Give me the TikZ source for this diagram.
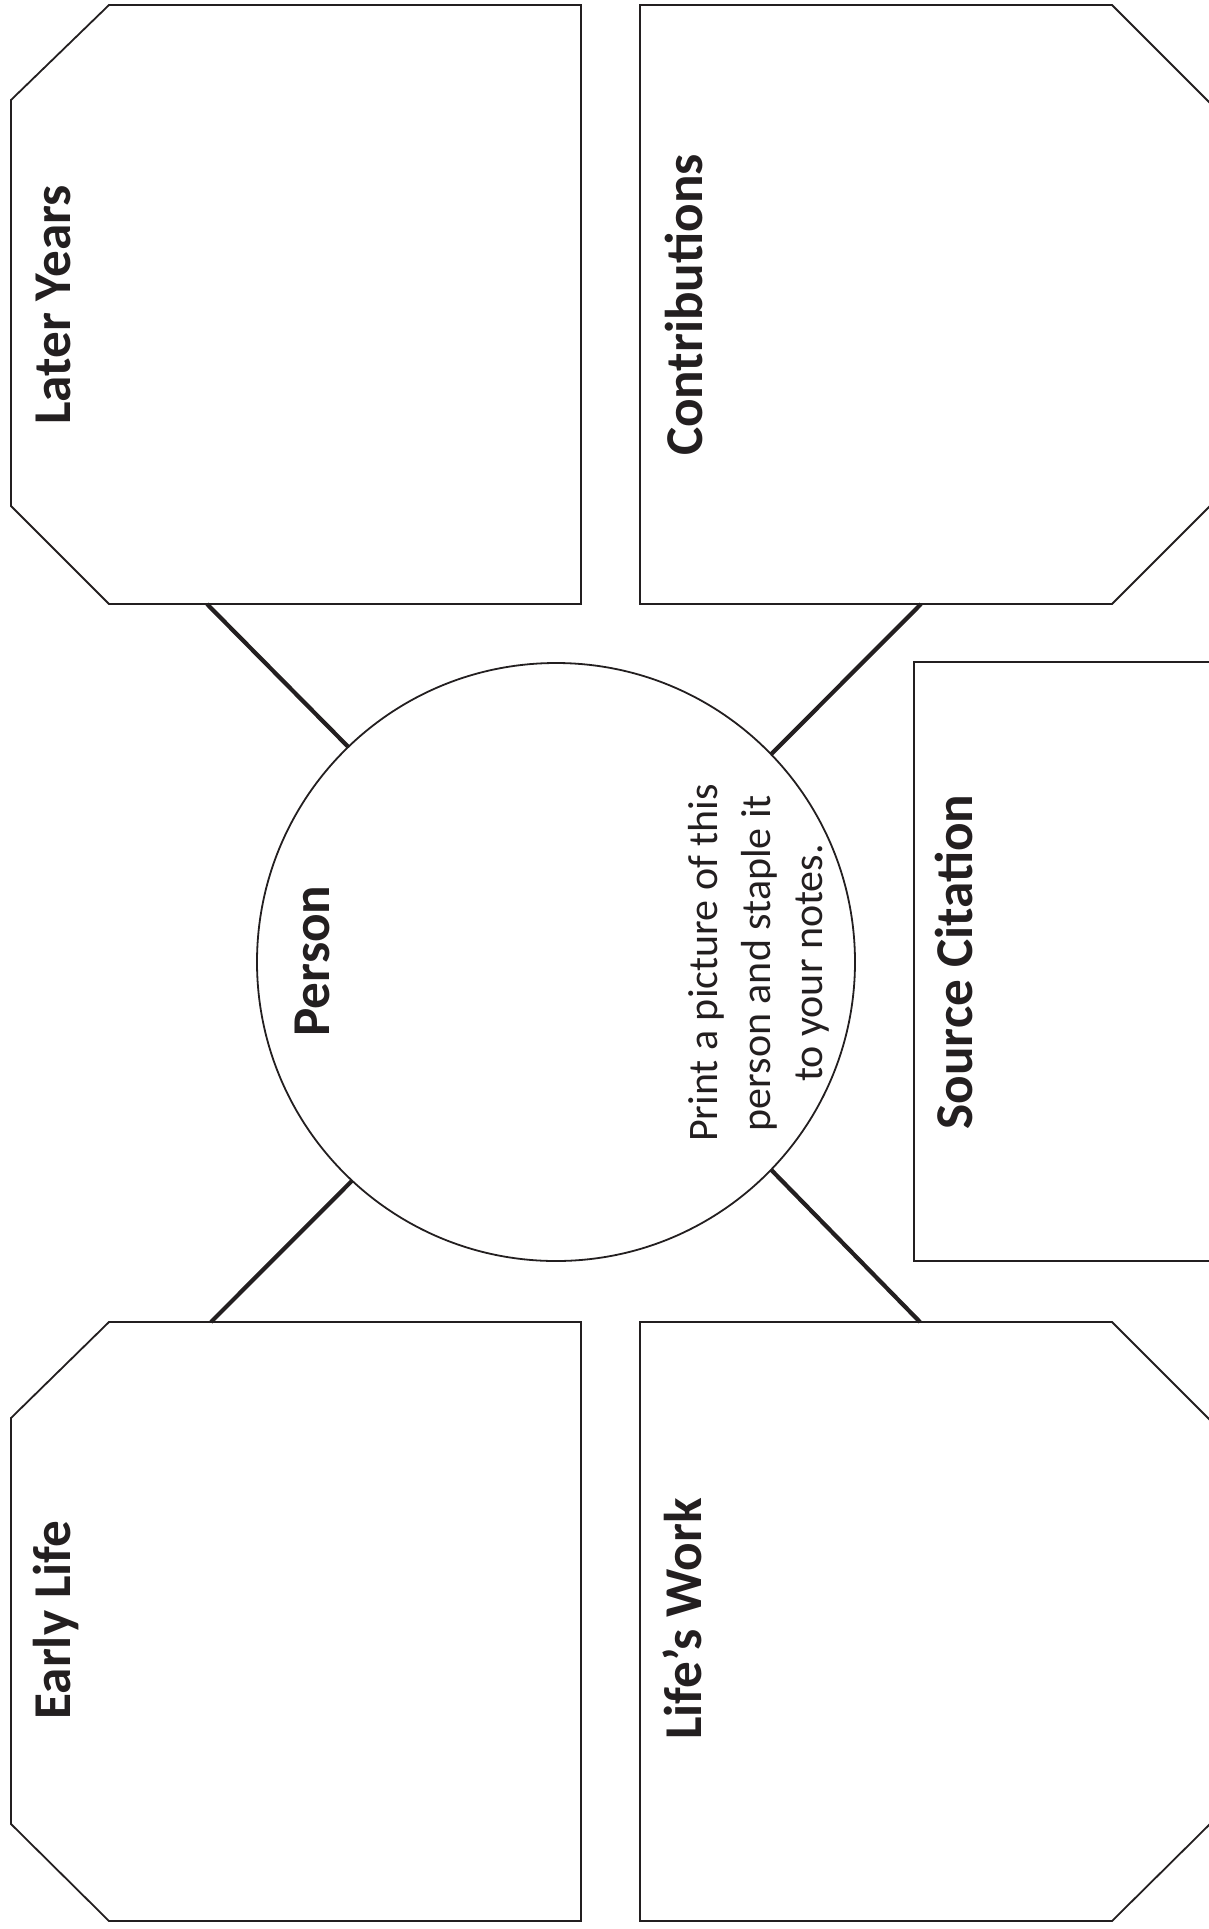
\documentclass[tikz,border=0pt]{standalone}
\usepackage{fontspec}
\setmainfont{Carlito}
\usetikzlibrary{positioning}
\definecolor{tinta}{HTML}{231F20}
\tikzset{
  marco/.style={draw=tinta, line width=0.9pt, line join=miter},
  titulo/.style={rotate=90, anchor=base, text=tinta, inner sep=0pt, font=\fontsize{26.6}{30}\selectfont\bfseries},
  nota/.style={rotate=90, align=center, text=tinta, inner sep=0pt, font=\fontsize{21}{26.3}\selectfont},
  rama/.style={draw=tinta, line width=2.1pt},
}
\begin{document}
\begin{tikzpicture}[x=0.5pt, y=-0.5pt]
  \useasboundingbox (0,0) rectangle (1209,1929);
  % cajas
  \draw[marco] (11,100) -- (109,5) -- (581,5) -- (581,604) -- (109,604) -- (11,506) -- cycle;
  \draw[marco] (640,5) -- (1112,5) -- (1212,105) -- (1212,504) -- (1112,604) -- (640,604) -- cycle;
  \draw[marco] (11,1418) -- (109,1322) -- (581,1322) -- (581,1921) -- (109,1921) -- (11,1824) -- cycle;
  \draw[marco] (640,1322) -- (1112,1322) -- (1212,1422) -- (1212,1822) -- (1112,1921) -- (640,1921) -- cycle;
  \draw[marco] (914,662) rectangle (1215,1261);
  \coordinate (ly) at (207,604);
  \coordinate (co) at (921,604);
  \coordinate (el) at (211,1322);
  \coordinate (lw) at (920,1322);
  % persona
  \node[marco, circle, minimum size=299pt, inner sep=0pt, outer sep=0pt] (pe) at (556,962) {};
  \foreach \a/\n in {134/ly, 44/co, 227/el, 316/lw} \draw[rama] (pe.\a) -- (\n);
  % textos
  \node[titulo] (tly) at (70,305) {Later Years};
  \node[titulo] (tco) at (702,305) {Contributions};
  \node[titulo] (tel) at (70,1620) {Early Life};
  \node[titulo] (tlw) at (701,1619) {Life’s Work};
  \node[titulo] (tpe) at (329,961) {Person};
  \node[titulo] (tsc) at (972,962) {Source Citation};
  \node[nota] (nt) at (759,963) {Print a picture of this\\person and staple it\\to your notes.};
\end{tikzpicture}
\end{document}
